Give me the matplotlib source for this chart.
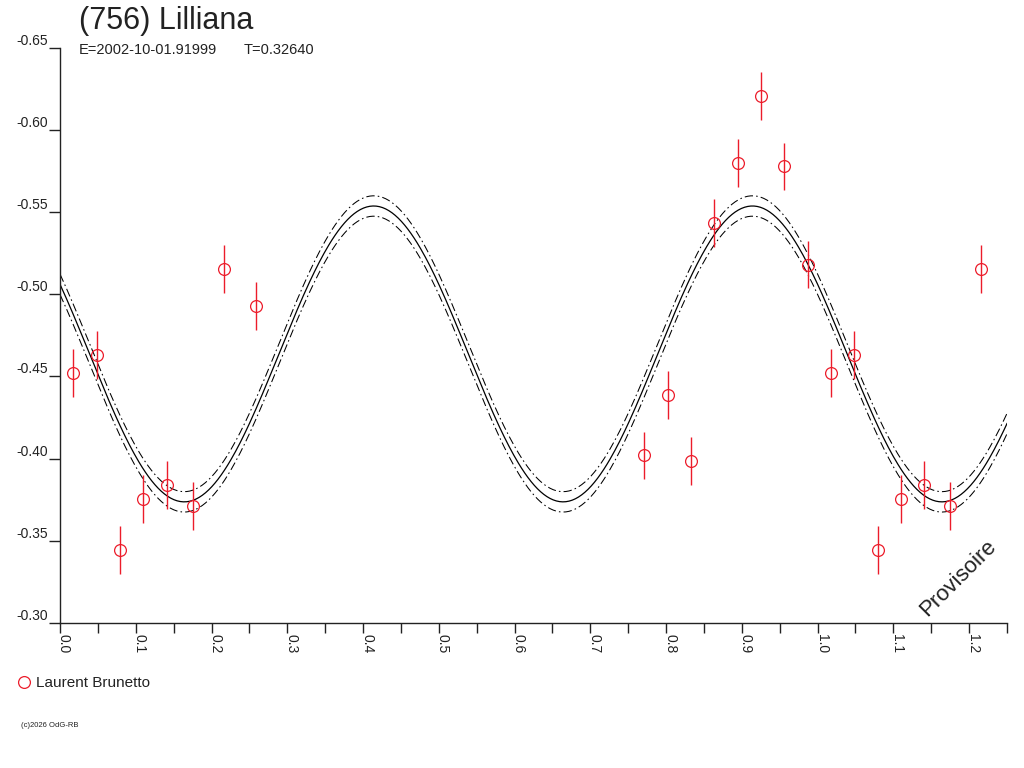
import numpy as np
import matplotlib
matplotlib.use("Agg")
import matplotlib.pyplot as plt
from matplotlib.lines import Line2D

plt.rcParams['font.family'] = ['Liberation Sans', 'DejaVu Sans']

phase = [0.0172, 0.0484, 0.0792, 0.1100, 0.1408, 0.1752, 0.2161, 0.2587,
         0.7709, 0.8021, 0.8329, 0.8637, 0.8950, 0.9253, 0.9556, 0.9867]
mag = [-0.4521, -0.4629, -0.3446, -0.3753, -0.3841, -0.3712, -0.5155, -0.4929,
       -0.4020, -0.4387, -0.3987, -0.5435, -0.5799, -0.6208, -0.5778, -0.5181]
mag_err = [0.0145] * len(mag)

# fitted light curve (2nd harmonic) and its uncertainty band
curve_mean = -0.4637
curve_amp = 0.0900
curve_phase_max = 0.414
curve_band = 0.0062

observer = "Laurent Brunetto"
title = "(756) Lilliana"
epoch = "E=2002-10-01.91999"
period = "T=0.32640"

red = '#ec1c2a'
ink = '#222222'

fig = plt.figure(figsize=(10.24, 7.68), dpi=100)
ax = fig.add_axes([60 / 1024, 1 - 623 / 768, 947 / 1024, 575.3 / 768])

# repeat points with phase + 1 while they stay inside the x range
ph = np.array(phase)
mg = np.array(mag)
er = np.array(mag_err)
keep = ph + 1 <= 1.25
ph_all = np.concatenate([ph, ph[keep] + 1])
mg_all = np.concatenate([mg, mg[keep]])
er_all = np.concatenate([er, er[keep]])

xs = np.linspace(0, 1.25, 600)
fit = curve_mean - curve_amp * np.cos(4 * np.pi * (xs - curve_phase_max))
ax.plot(xs, fit, color='black', lw=0.9)
ax.plot(xs, fit - curve_band, color='black', lw=0.75, dashes=(8, 3, 1.5, 3))
ax.plot(xs, fit + curve_band, color='black', lw=0.75, dashes=(8, 3, 1.5, 3))

ax.errorbar(ph_all, mg_all, yerr=er_all, fmt='o', ms=8.5, mfc='none',
            mec=red, mew=0.9, ecolor=red, elinewidth=1.0, capsize=0)

ax.set_xlim(0, 1.25)
ax.set_ylim(-0.30, -0.65)
ax.spines['top'].set_visible(False)
ax.spines['right'].set_visible(False)
for s in ('left', 'bottom'):
    ax.spines[s].set_linewidth(1.0)
    ax.spines[s].set_color(ink)

ax.set_xticks(np.arange(0, 1.21, 0.1))
ax.set_xticks(np.arange(0.05, 1.26, 0.1), minor=True)
ax.set_xticklabels([f"{v:.1f}" for v in np.arange(0, 1.21, 0.1)])
ax.set_yticks(np.arange(-0.65, -0.29, 0.05))
ax.set_yticklabels([f"{v:.2f}" for v in np.arange(-0.65, -0.29, 0.05)])

ax.tick_params(axis='x', which='both', direction='out', length=7.2,
               width=1.0, color=ink, pad=1, labelsize=10, labelcolor=ink)
ax.tick_params(axis='y', direction='out', length=8, width=1.0, color=ink,
               pad=0.5, labelsize=10, labelcolor=ink)
plt.setp(ax.get_xticklabels(), rotation=-90, rotation_mode='anchor',
         ha='left', va='baseline')
plt.setp(ax.get_yticklabels(), va='bottom')

fig.text(79 / 1024, 1 - 29.5 / 768, title, fontsize=22, color=ink,
         va='baseline', ha='left')
fig.text(79 / 1024, 1 - 54 / 768, epoch, fontsize=10.5, color=ink,
         va='baseline', ha='left')
fig.text(243.5 / 1024, 1 - 54 / 768, period, fontsize=10.5, color=ink,
         va='baseline', ha='left')

ax.text((958 - 60) / 947, (623 - 578) / 575.3, "Provisoire",
        transform=ax.transAxes, rotation=45, fontsize=16, color=ink,
        ha='center', va='center')

handle = Line2D([], [], marker='o', ls='none', ms=8.5, mfc='none', mec=red,
                mew=0.9)
fig.legend(handles=[handle], labels=[observer], loc='center left',
           bbox_to_anchor=(18 / 1024, 1 - 683 / 768), frameon=False,
           fontsize=11, handlelength=0.8, handletextpad=0.35, borderpad=0,
           borderaxespad=0, labelcolor=ink)

fig.text(21 / 1024, 1 - 725.5 / 768, "(c)2026 OdG-RB", fontsize=5.5,
         color=ink, va='center', ha='left')

fig.savefig("out.png", dpi=100)
